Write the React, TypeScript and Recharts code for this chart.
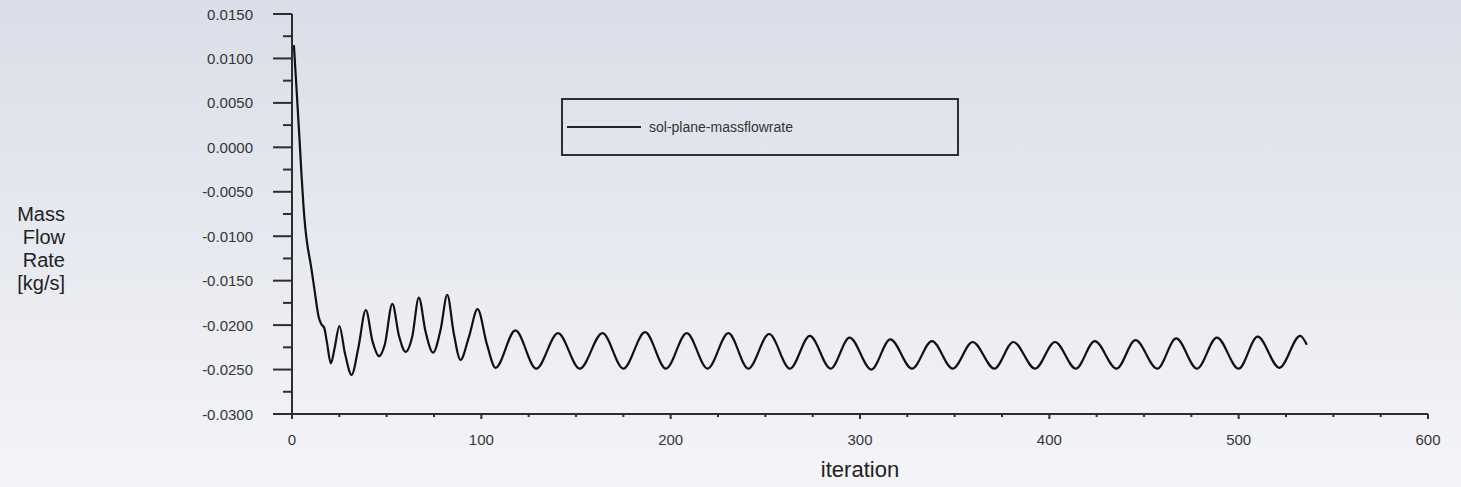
import React from 'react'
import { LineChart, Line, XAxis, YAxis, Legend } from 'recharts'

// iteration numbers and mass flow rate
const iterations = [
  1, 2, 3, 4, 5, 6, 7, 8, 10, 12, 14, 15.5, 17, 18.5, 20.5, 22.5, 25, 28, 31.5, 35,
  39, 42.5, 46, 49, 53, 56.5, 60, 63.5, 67, 70.5, 74.5, 78.5, 82, 85.5, 89, 93.5,
  98, 103, 107.5, 118, 129, 140.5, 152, 164, 175, 186.5, 197.5, 208.5, 219.5, 230.5,
  241, 252, 263, 273.5, 284.5, 294.5, 306, 316, 327.5, 338, 349, 359.5, 371, 381,
  392.5, 403, 414, 424, 435.5, 445.5, 457, 467, 478, 488.5, 500, 510, 521.5, 532.5, 536,
]
const massFlow = [
  0.0115, 0.008, 0.0044, 0.0008, -0.003, -0.0064, -0.009, -0.0108, -0.0133, -0.0162,
  -0.019, -0.0199, -0.0203, -0.022, -0.0243, -0.0226, -0.0201, -0.0232, -0.0256, -0.0226,
  -0.0183, -0.0218, -0.0235, -0.0222, -0.0176, -0.0212, -0.023, -0.0213, -0.0169, -0.0207,
  -0.0231, -0.0205, -0.0166, -0.021, -0.0239, -0.0213, -0.0182, -0.0222, -0.0248, -0.0206,
  -0.0249, -0.0209, -0.0249, -0.0209, -0.0249, -0.0208, -0.0249, -0.0209, -0.0249, -0.0209,
  -0.0249, -0.021, -0.0249, -0.0212, -0.0249, -0.0214, -0.025, -0.0216, -0.0249, -0.0218,
  -0.0249, -0.0219, -0.0249, -0.0219, -0.0249, -0.0219, -0.0249, -0.0218, -0.0249, -0.0217,
  -0.0249, -0.0215, -0.0249, -0.0214, -0.0249, -0.0213, -0.0248, -0.0212, -0.0222,
]

const xTicks = [0, 25, 50, 75, 100, 125, 150, 175, 200, 225, 250, 275, 300, 325, 350, 375, 400, 425, 450, 475, 500, 525, 550, 575, 600]
const yTicks = [
  -0.03, -0.0275, -0.025, -0.0225, -0.02, -0.0175, -0.015, -0.0125, -0.01, -0.0075,
  -0.005, -0.0025, 0, 0.0025, 0.005, 0.0075, 0.01, 0.0125, 0.015,
]

const seriesName = 'sol-plane-massflowrate'
const yTitle = ['Mass', 'Flow', 'Rate', '[kg/s]']
const xTitle = 'iteration'

const data = iterations.map((it, i) => ({ iteration: it, value: massFlow[i] }))

const FONT = '"Liberation Sans", Arial, sans-serif'
const AXIS = '#2e2e2e'

const isMajor = (v: number, step: number) => Math.abs(Math.round(v / step) * step - v) < 1e-9

function XTick(props: any) {
  const { x, y, payload } = props
  const major = isMajor(payload.value, 100)
  return (
    <g>
      <line x1={x} y1={y} x2={x} y2={y + (major ? 5 : 3)} stroke={AXIS} strokeWidth={2} />
      {major && (
        <text x={x} y={y + 25} textAnchor="middle" dominantBaseline="central" fontSize={15} fill="#363636" fontFamily={FONT}>
          {payload.value}
        </text>
      )}
    </g>
  )
}

function YTick(props: any) {
  const { x, y, payload } = props
  const major = isMajor(payload.value, 0.005)
  return (
    <g>
      <line x1={x - (major ? 19 : 9)} y1={y} x2={x} y2={y} stroke={AXIS} strokeWidth={2} />
      {major && (
        <text x={x - 39} y={y} textAnchor="end" dominantBaseline="central" fontSize={15} fill="#363636" fontFamily={FONT}>
          {payload.value.toFixed(4)}
        </text>
      )}
    </g>
  )
}

function LegendBox() {
  return (
    <div
      style={{
        boxSizing: 'border-box',
        width: 398,
        height: 58,
        border: `2px solid ${AXIS}`,
        display: 'flex',
        alignItems: 'center',
        fontFamily: FONT,
        fontSize: 14,
        color: '#333',
      }}
    >
      <div style={{ width: 74, height: 2, background: '#222', marginLeft: 4, marginRight: 8 }} />
      <span>{seriesName}</span>
    </div>
  )
}

export default function App() {
  return (
    <div
      style={{
        position: 'relative',
        width: 1461,
        height: 487,
        background: 'linear-gradient(to bottom, #dadee8, #f4f5f8)',
        fontFamily: FONT,
      }}
    >
      <style>{'body{margin:0}'}</style>
      <LineChart width={1461} height={487} data={data} margin={{ top: 14, right: 33, bottom: 0, left: 232 }}>
        <XAxis
          dataKey="iteration"
          type="number"
          domain={[0, 600]}
          ticks={xTicks}
          interval={0}
          tickSize={0}
          tickMargin={0}
          tickLine={false}
          height={73}
          axisLine={{ stroke: AXIS, strokeWidth: 2 }}
          tick={(p: any) => <XTick {...p} />}
        />
        <YAxis
          type="number"
          domain={[-0.03, 0.015]}
          ticks={yTicks}
          interval={0}
          width={60}
          tickSize={0}
          tickMargin={0}
          tickLine={false}
          allowDataOverflow
          axisLine={{ stroke: AXIS, strokeWidth: 2 }}
          tick={(p: any) => <YTick {...p} />}
        />
        <Legend
          layout="horizontal"
          verticalAlign="middle"
          align="center"
          content={() => <LegendBox />}
          wrapperStyle={{ left: 561, top: 98, width: 398, height: 58 }}
        />
        <Line
          type="monotone"
          dataKey="value"
          name={seriesName}
          stroke="#111"
          strokeWidth={2.2}
          dot={false}
          isAnimationActive={false}
        />
      </LineChart>
      <div
        style={{
          position: 'absolute',
          left: 0,
          top: 203,
          width: 65,
          textAlign: 'right',
          fontSize: 20,
          lineHeight: '23px',
          color: '#222',
        }}
      >
        {yTitle.map((t) => (
          <div key={t}>{t}</div>
        ))}
      </div>
      <div
        style={{
          position: 'absolute',
          left: 760,
          width: 200,
          top: 457,
          textAlign: 'center',
          fontSize: 22,
          lineHeight: '26px',
          color: '#222',
        }}
      >
        {xTitle}
      </div>
    </div>
  )
}
